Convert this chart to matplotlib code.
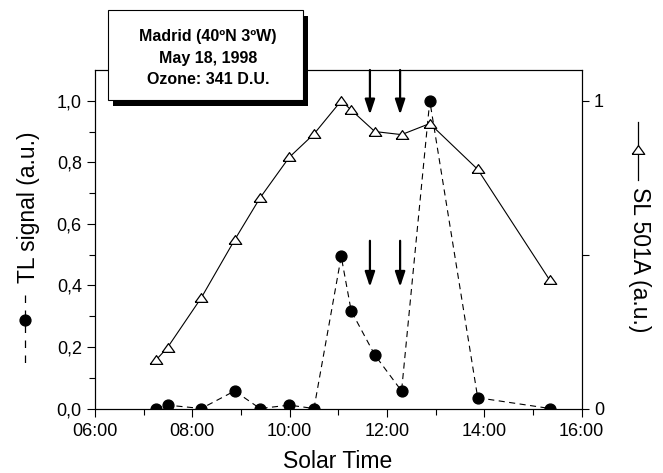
import matplotlib
matplotlib.use("Agg")
import matplotlib.pyplot as plt
from matplotlib.lines import Line2D
from matplotlib.patches import Rectangle
from matplotlib.ticker import FixedLocator

plt.rcParams['font.family'] = ['Liberation Sans', 'DejaVu Sans']

# ---------------- data ----------------
solar_time = [7.25, 7.49, 8.185, 8.87, 9.39, 9.99, 10.50, 11.06, 11.265,
              11.75, 12.30, 12.88, 13.865, 15.35]
tl_signal = [0.0, 0.011, 0.0, 0.057, 0.0, 0.011, 0.0, 0.494, 0.317,
             0.174, 0.057, 1.0, 0.035, 0.0]
sl501a = [0.157, 0.198, 0.36, 0.548, 0.684, 0.816, 0.892, 1.0, 0.97,
          0.90, 0.89, 0.926, 0.777, 0.416]

x_ticks = [6, 8, 10, 12, 14, 16]
x_tick_labels = ["06:00", "08:00", "10:00", "12:00", "14:00", "16:00"]
left_ticks = [0.0, 0.2, 0.4, 0.6, 0.8, 1.0]
left_tick_labels = ["0,0", "0,2", "0,4", "0,6", "0,8", "1,0"]
right_ticks = [0, 1]
right_tick_labels = ["0", "1"]

arrow_times = [11.65, 12.27]
arrow_upper = (1.10, 0.955)
arrow_lower = (0.545, 0.395)

info_lines = ["Madrid (40ºN 3ºW)", "May 18, 1998", "Ozone: 341 D.U."]

# ---------------- figure ----------------
W, H = 663, 473
fig = plt.figure(figsize=(W / 100, H / 100), dpi=100)

def fx(px):
    return px / W

def fy(py):
    return 1 - py / H

x0, x1, ytop, ybot = 95, 581.6, 70, 408.5
ax = fig.add_axes([fx(x0), fy(ybot), fx(x1) - fx(x0), fy(ytop) - fy(ybot)])
ax2 = ax.twinx()

ax.set_xlim(6, 16)
ax.set_ylim(0, 1.1)
ax2.set_ylim(0, 1.1)

lw_sp = 0.8
for a in (ax, ax2):
    for s in a.spines.values():
        s.set_linewidth(lw_sp)

# TL signal (left axis)
ax.plot(solar_time, tl_signal, color='black', lw=0.8, dashes=(5.5, 4),
        marker='o', ms=7.8, mfc='black', mec='black', zorder=3)

# SL 501A (right axis)
tri = [(-1, -0.62), (1, -0.62), (0, 0.78), (-1, -0.62)]
ax2.plot(solar_time, sl501a, color='black', lw=0.8, marker=tri, ms=9,
         mfc='white', mec='black', mew=0.9, zorder=3)

# arrows
for t in arrow_times:
    for (ys, ye) in (arrow_upper, arrow_lower):
        ax.annotate('', xy=(t, ye), xytext=(t, ys),
                    arrowprops=dict(arrowstyle='-|>,head_length=0.6,head_width=0.2',
                                    lw=1.6, color='black', shrinkA=0, shrinkB=0,
                                    mutation_scale=15),
                    zorder=4, annotation_clip=False)

# ticks
ax.xaxis.set_major_locator(FixedLocator(x_ticks))
ax.set_xticklabels(x_tick_labels)
ax.xaxis.set_minor_locator(FixedLocator([7, 9, 11, 13, 15]))
ax.yaxis.set_major_locator(FixedLocator(left_ticks))
ax.set_yticklabels(left_tick_labels)
ax.yaxis.set_minor_locator(FixedLocator([0.1, 0.3, 0.5, 0.7, 0.9]))
ax2.yaxis.set_major_locator(FixedLocator(right_ticks))
ax2.set_yticklabels(right_tick_labels)
ax2.yaxis.set_minor_locator(FixedLocator([0.5]))

ax.tick_params(axis='x', which='major', direction='out', length=6, width=0.8,
               labelsize=13, pad=4.5)
ax.tick_params(axis='x', which='minor', direction='out', length=4, width=0.8)
ax.tick_params(axis='y', which='major', direction='out', length=6, width=0.8,
               labelsize=13, pad=3.5)
ax.tick_params(axis='y', which='minor', direction='out', length=4, width=0.8)
ax2.tick_params(axis='y', which='both', direction='out', length=5, width=0.8,
                labelsize=13, pad=4)

# axis labels
fig.text(fx(338), fy(461.5), "Solar Time", ha='center', va='center', size=16.5)
fig.text(fx(29), fy(207.5), "TL signal (a.u.)", ha='center', va='center',
         rotation=90, size=16.5)
fig.text(fx(639), fy(260), "SL 501A (a.u.)", ha='center', va='center',
         rotation=270, size=16.5)

# legend glyphs in the axis titles
fig.add_artist(Line2D([fx(25), fx(25)], [fy(295), fy(365)], transform=fig.transFigure,
                      color='black', lw=0.9, dashes=(6, 6)))
fig.add_artist(Line2D([fx(25)], [fy(320)], transform=fig.transFigure,
                      marker='o', ms=7.8, color='black', lw=0))
fig.add_artist(Line2D([fx(638), fx(638)], [fy(122), fy(180)], transform=fig.transFigure,
                      color='black', lw=0.9))
fig.add_artist(Line2D([fx(638)], [fy(150)], transform=fig.transFigure,
                      marker=tri, ms=9, mfc='white', mec='black', mew=0.9, lw=0))

# info box with shadow
bx0, by0, bx1, by1 = 107.7, 10, 303, 100.5
sh = 5.5
fig.add_artist(Rectangle((fx(bx0 + sh), fy(by1 + sh + 0.5)), fx(bx1) - fx(bx0),
                         fy(by0) - fy(by1), transform=fig.transFigure,
                         facecolor='black', edgecolor='none', zorder=5))
fig.add_artist(Rectangle((fx(bx0), fy(by1)), fx(bx1) - fx(bx0), fy(by0) - fy(by1),
                         transform=fig.transFigure, facecolor='white',
                         edgecolor='black', lw=0.8, zorder=6))
for i, line in enumerate(info_lines):
    fig.text(fx(208), fy(37 + 21 * i), line, ha='center', va='center',
             size=11.5, weight='bold', zorder=7)

fig.savefig("out.png", dpi=100)
